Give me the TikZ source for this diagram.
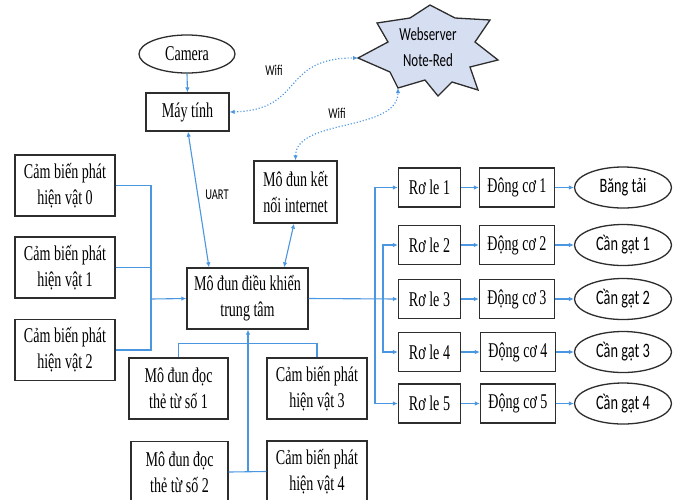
\documentclass[tikz,border=0pt]{standalone}
\usepackage{fontspec}
\setmainfont[FakeStretch=0.67]{Liberation Serif}
\newfontfamily\calib[FakeStretch=0.7]{Carlito}
\usetikzlibrary{arrows.meta,calc,shapes.geometric}
\definecolor{lnblue}{RGB}{75,150,225}
\definecolor{starfill}{RGB}{214,222,242}
\definecolor{edgec}{RGB}{45,45,45}
\begin{document}
\begin{tikzpicture}[x=1pt,y=-1pt,
  box/.style={draw=edgec, line width=1.3pt, fill=white, align=center, inner sep=0pt,
    font=\fontsize{21}{26}\selectfont},
  oval/.style={ellipse, draw=edgec, line width=1.3pt, fill=white, inner sep=0pt,
    font=\calib\fontsize{20.5}{24}\selectfont},
  conn/.style={draw=lnblue, line width=1.1pt},
  tip/.tip={Latex[length=5pt,width=4.5pt]},
  arr/.style={conn, -tip},
  barr/.style={conn, tip-tip},
  wifiln/.style={conn, dotted, line width=1.2pt, tip-tip},
  lbl/.style={font=\calib\fontsize{15}{16}\selectfont, inner sep=0pt}
]
\useasboundingbox (0,0) rectangle (682,499);

% star (Webserver)
\coordinate (sL) at (358,58);
\coordinate (sB) at (398,88);
\filldraw[fill=starfill, draw=edgec, line width=1.3pt]
  (sL) -- (388,42) -- (377,23) -- (410,18) -- (430,5) -- (455,18) -- (490,20)
  -- (475,42) -- (498,60) -- (470,67) -- (478,90) -- (452,82) -- (438,96)
  -- (425,80) -- (sB) -- (390,72) -- cycle;
\node[font=\calib\fontsize{18.5}{26}\selectfont, align=center, inner sep=0pt] (web) at (428,47) {Webserver\\Note-Red};

% top-left
\node[oval, font=\fontsize{21}{24}\selectfont, minimum width=96pt, minimum height=38pt] (cam) at (187,54) {Camera};
\node[box, minimum width=83pt, minimum height=38pt] (mt) at (187.5,112) {Máy tính};
\node[box, minimum width=83pt, minimum height=62pt] (kn) at (295.5,192) {Mô đun kết\\nối internet};
\node[box, minimum width=121pt, minimum height=61pt] (tt) at (247.5,298.5) {Mô đun điều khiển\\trung tâm};

% left sensors
\node[box, minimum width=100pt, minimum height=61pt] (cb0) at (65,185.5) {Cảm biến phát\\hiện vật 0};
\node[box, minimum width=100pt, minimum height=61pt] (cb1) at (65,267.5) {Cảm biến phát\\hiện vật 1};
\node[box, minimum width=100pt, minimum height=61pt] (cb2) at (65,350) {Cảm biến phát\\hiện vật 2};

% bottom
\node[box, minimum width=99pt, minimum height=61pt] (the1) at (178.5,388.5) {Mô đun đọc\\thẻ từ số 1};
\node[box, minimum width=100pt, minimum height=61pt] (cb3) at (317,388.5) {Cảm biến phát\\hiện vật 3};
\node[box, minimum width=97pt, minimum height=61pt] (the2) at (179.5,472) {Mô đun đọc\\thẻ từ số 2};
\node[box, minimum width=100pt, minimum height=61pt] (cb4) at (317,471.5) {Cảm biến phát\\hiện vật 4};

% right side
\foreach \i/\y/\t in {1/187.5/Băng tải, 2/245/Cần gạt 1, 3/299/Cần gạt 2, 4/352/Cần gạt 3, 5/403.5/Cần gạt 4}{
  \node[box, minimum width=62pt, minimum height=39pt] (rl\i) at (429.5,\y) {Rơ le \i};
  \node[oval, minimum width=97pt, minimum height=41pt] (ov\i) at (623,\y) {\t};
}
\node[box, minimum width=75pt, minimum height=39pt] (dc1) at (517,187.5) {Đông cơ 1};
\node[box, minimum width=75pt, minimum height=39pt] (dc2) at (517,245) {Động cơ 2};
\node[box, minimum width=75pt, minimum height=39pt] (dc3) at (517,299) {Động cơ 3};
\node[box, minimum width=75pt, minimum height=39pt] (dc4) at (518,352) {Động cơ 4};
\node[box, minimum width=75pt, minimum height=39pt] (dc5) at (518,403.5) {Động cơ 5};

\foreach \i in {1,...,5}{
  \draw[arr] (rl\i) -- (dc\i);
  \draw[arr] (dc\i) -- (ov\i);
}

% connectors to relays
\coordinate (rb1) at (375,299);
\coordinate (rb2) at (383,299);
\draw[arr] (tt.east) -- (rl3.west);
\draw[arr] (rb1) |- (rl1.west);
\draw[arr] (rb1) |- (rl5.west);
\draw[arr] (rb2) |- (rl2.west);
\draw[arr] (rb2) |- (rl4.west);

% left bus
\coordinate (lb) at (151,299);
\draw[conn] (cb0.east) -| (lb);
\draw[conn] (cb2.east) -| (lb);
\draw[conn] (cb1.east) -- (cb1.east -| lb);
\draw[arr] (lb) -- (tt.west);

% bottom bus
\coordinate (bb) at (248,472);
\draw[conn] (the1.north) -- ++(0,-14) -| (cb3.north);
\draw[conn] (the2.east) -- (cb4.west);
\draw[arr] (bb) -- (bb |- tt.south);

% top connections
\draw[arr] (cam.south) -- (mt.north);
\draw[barr] ($(mt.south)+(0.5,0)$) -- ($(tt.north)+(-38.5,0)$);
\draw[barr] ($(kn.south)+(-1.5,0)$) -- ($(tt.north)+(36.5,0)$);
\draw[wifiln] (mt.east) .. controls (305,110) and (280,58) .. (sL);
\draw[wifiln] (kn.north) .. controls (296,118) and (398,132) .. (sB);

% labels
\node[lbl] (w1) at (274,70) {Wifi};
\node[lbl] (w2) at (337,113) {Wifi};
\node[lbl] (ua) at (217,195) {UART};
\end{tikzpicture}
\end{document}
